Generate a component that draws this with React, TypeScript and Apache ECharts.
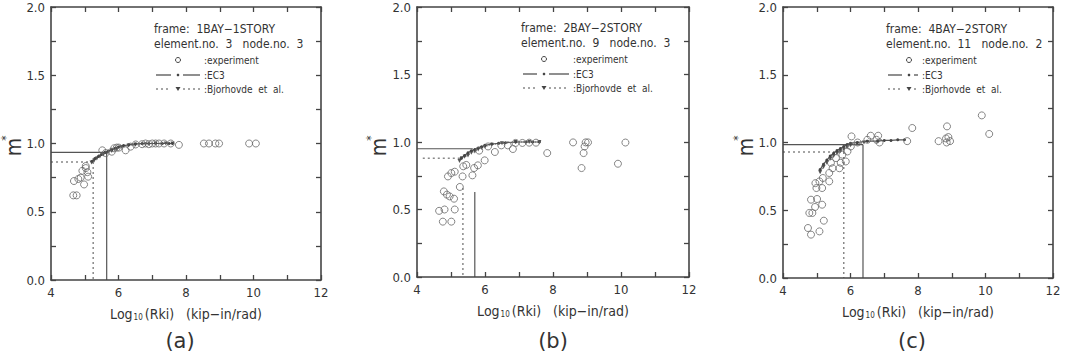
import React, { useEffect, useRef } from "react";
import * as echarts from "echarts";

// ---- tick labels & texts ----
const xTickLabels = ["4", "6", "8", "10", "12"];
const yTickLabels = ["0.0", "0.5", "1.0", "1.5", "2.0"];
const panelLetters = ["(a)", "(b)", "(c)"];
const frameNames = ["1BAY−1STORY", "2BAY−2STORY", "4BAY−2STORY"];
const elementNos = ["3", "9", "11"];
const nodeNos = ["3", "3", "2"];

type P = [number, number];

// ---- panel (a) ----
const expA: P[] = [
  [4.66, 0.62], [4.76, 0.62], [4.68, 0.725], [4.81, 0.74], [4.88, 0.75], [4.93, 0.8],
  [5.03, 0.82], [4.98, 0.7], [5.1, 0.757], [5.08, 0.79], [5.03, 0.835], [5.52, 0.95],
  [5.62, 0.93], [5.8, 0.94], [5.87, 0.965], [5.95, 0.97], [6.01, 0.97], [6.21, 0.95],
  [6.36, 0.977], [6.51, 0.993], [6.7, 0.995], [6.8, 1.0], [6.9, 0.995], [7.0, 1.0],
  [7.1, 1.0], [7.2, 1.0], [7.35, 1.0], [7.55, 1.0], [7.79, 0.99], [8.53, 1.0],
  [8.68, 1.0], [8.87, 1.0], [8.98, 1.0], [9.87, 1.0], [10.07, 1.0],
];
const ec3A: P[] = [
  [5.22, 0.87], [5.3, 0.89], [5.4, 0.905], [5.5, 0.92], [5.6, 0.935], [5.7, 0.945],
  [5.8, 0.955], [5.9, 0.965], [6.0, 0.975], [6.15, 0.985], [6.3, 0.99], [6.5, 0.997],
  [6.7, 1.0], [6.9, 1.0], [7.1, 1.0], [7.3, 1.0], [7.5, 1.0], [7.6, 1.0],
];
const bjA: P[] = [
  [5.2, 0.86], [5.28, 0.875], [5.36, 0.89], [5.45, 0.905], [5.55, 0.92], [5.65, 0.93],
  [5.8, 0.945], [5.95, 0.96], [6.1, 0.975], [6.3, 0.985], [6.5, 0.99], [6.8, 0.995],
  [7.1, 1.0], [7.4, 1.0], [7.6, 1.0],
];
const ec3HA: P[] = [[4, 0.935], [5.65, 0.935]];
const ec3VA: P[] = [[5.65, 0.935], [5.65, 0]];
const bjHA: P[] = [[4, 0.864], [5.25, 0.864]];
const bjVA: P[] = [[5.25, 0.864], [5.25, 0]];

// ---- panel (b) ----
const expB: P[] = [
  [4.65, 0.49], [4.76, 0.41], [4.81, 0.5], [5.01, 0.41], [5.11, 0.5], [4.79, 0.634],
  [4.88, 0.61], [4.96, 0.597], [5.09, 0.58], [5.26, 0.667], [4.91, 0.745], [5.01, 0.77],
  [5.11, 0.78], [5.34, 0.745], [5.36, 0.82], [5.45, 0.83], [5.63, 0.753], [5.68, 0.807],
  [5.79, 0.827], [5.99, 0.864], [5.83, 0.936], [6.09, 0.967], [6.29, 0.926], [6.48, 0.975],
  [6.67, 0.975], [6.82, 0.948], [6.9, 0.993], [7.1, 0.993], [7.3, 0.995], [7.5, 0.995],
  [7.83, 0.918], [8.59, 0.997], [8.84, 0.807], [8.9, 0.918], [8.93, 0.967], [8.96, 0.997],
  [9.03, 0.997], [9.91, 0.839], [10.13, 0.996],
];
const ec3B: P[] = [
  [5.3, 0.88], [5.4, 0.9], [5.5, 0.92], [5.6, 0.935], [5.7, 0.945], [5.8, 0.955],
  [5.9, 0.965], [6.0, 0.975], [6.2, 0.985], [6.4, 0.99], [6.6, 0.995], [6.9, 1.0],
  [7.2, 1.0], [7.4, 1.0], [7.6, 1.0],
];
const bjB: P[] = [
  [5.25, 0.86], [5.32, 0.88], [5.4, 0.89], [5.5, 0.9], [5.6, 0.92], [5.7, 0.93],
  [5.8, 0.945], [5.9, 0.955], [6.0, 0.965], [6.2, 0.98], [6.5, 0.99], [6.9, 1.0],
  [7.3, 1.0], [7.6, 1.0],
];
const ec3HB: P[] = [[4, 0.95], [5.64, 0.95]];
const ec3VB: P[] = [[5.7, 0.63], [5.7, 0]];
const bjHB: P[] = [[4.17, 0.88], [5.3, 0.88]];
const bjVB: P[] = [[5.35, 0.66], [5.35, 0]];

// ---- panel (c) ----
const expC: P[] = [
  [4.74, 0.369], [4.83, 0.32], [5.08, 0.344], [5.21, 0.423], [4.78, 0.48], [4.87, 0.48],
  [4.83, 0.578], [5.01, 0.583], [4.95, 0.524], [5.16, 0.541], [4.96, 0.7], [5.08, 0.713],
  [4.99, 0.664], [5.16, 0.664], [5.18, 0.738], [5.37, 0.713], [5.37, 0.775], [5.47, 0.81],
  [5.42, 0.85], [5.57, 0.885], [5.67, 0.81], [5.71, 0.85], [5.86, 0.86], [5.76, 0.91],
  [5.91, 0.934], [6.01, 0.971], [6.03, 1.045], [6.21, 1.0], [6.5, 1.02], [6.6, 1.05],
  [6.82, 1.05], [6.77, 1.02], [6.86, 1.0], [7.68, 1.01], [7.83, 1.107], [8.61, 1.01],
  [8.86, 1.119], [8.83, 1.03], [8.9, 1.04], [8.95, 1.01], [8.85, 1.0], [9.89, 1.2],
  [10.11, 1.063],
];
const ec3C: P[] = [
  [5.1, 0.8], [5.2, 0.84], [5.3, 0.87], [5.4, 0.9], [5.5, 0.92], [5.6, 0.94],
  [5.7, 0.955], [5.8, 0.97], [5.9, 0.985], [6.0, 0.995], [6.2, 1.0], [6.5, 1.01],
  [6.8, 1.01], [7.0, 1.015], [7.2, 1.015], [7.4, 1.02], [7.6, 1.02],
];
const bjC: P[] = [
  [5.1, 0.78], [5.2, 0.82], [5.3, 0.85], [5.4, 0.88], [5.5, 0.9], [5.6, 0.92],
  [5.7, 0.935], [5.8, 0.95], [5.9, 0.965], [6.0, 0.98], [6.2, 0.99], [6.4, 1.0],
];
const ec3HC: P[] = [[4, 0.984], [6.37, 0.984]];
const ec3VC: P[] = [[6.37, 0.984], [6.37, 0]];
const bjHC: P[] = [[4, 0.93], [5.8, 0.93]];
const bjVC: P[] = [[5.8, 0.93], [5.8, 0]];

const panelsData = [
  { exp: expA, ec3: ec3A, bj: bjA, ec3H: ec3HA, ec3V: ec3VA, bjH: bjHA, bjV: bjVA },
  { exp: expB, ec3: ec3B, bj: bjB, ec3H: ec3HB, ec3V: ec3VB, bjH: bjHB, bjV: bjVB },
  { exp: expC, ec3: ec3C, bj: bjC, ec3H: ec3HC, ec3V: ec3VC, bjH: bjHC, bjV: bjVC },
];

// ---- layout (pixels) ----
const layout = [
  { left: 51, top: 7, width: 270, height: 273, caption: 180, lx: 154, ly: 29, sym: 24, txt: 50, mx: 14 },
  { left: 417, top: 7, width: 272, height: 270, caption: 553, lx: 521, ly: 28, sym: 23, txt: 52, mx: 379 },
  { left: 783, top: 7, width: 270, height: 271, caption: 912, lx: 886, ly: 29, sym: 23, txt: 36, mx: 746 },
];

const FONT = "DejaVu Sans Condensed";
const AX = "#444444";
const TXT = "#333333";

function xFmt(v: number) {
  const s = String(v);
  return xTickLabels.includes(s) ? s : "";
}
function yFmt(v: number) {
  if (Math.abs(v * 2 - Math.round(v * 2)) > 1e-6) return "";
  const s = v.toFixed(1);
  return yTickLabels.includes(s) ? s : "";
}

const mkLine = () => ({ show: true, onZero: false, lineStyle: { color: AX, width: 1.6, opacity: 1 } });
const mkTick = () => ({ show: true, inside: true, length: 5, lineStyle: { color: AX, width: 1.3, opacity: 1 } });

function buildOption() {
  const grid: any[] = [];
  const xAxis: any[] = [];
  const yAxis: any[] = [];
  const series: any[] = [];
  const graphic: any[] = [];

  layout.forEach((L, i) => {
    grid.push({ left: L.left, top: L.top, width: L.width, height: L.height, z: 5 });
    xAxis.push({
      gridIndex: i, type: "value", min: 4, max: 12, interval: 1, position: "bottom", z: 5,
      axisLine: mkLine(), axisTick: mkTick(), splitLine: { show: false },
      axisLabel: { formatter: xFmt, color: TXT, fontSize: 13, fontFamily: FONT, margin: 6 },
      name: "{n|Log}{s|10}{n|(Rki)   (kip−in/rad)}",
      nameLocation: "middle", nameGap: 27,
      nameTextStyle: {
        rich: {
          n: { fontSize: 14, fontFamily: FONT, color: TXT, verticalAlign: "bottom" },
          s: { fontSize: 8, fontFamily: FONT, color: TXT, verticalAlign: "bottom", padding: [0, 2, 0, 1] },
        },
      },
    });
    xAxis.push({
      gridIndex: i, type: "value", min: 4, max: 12, interval: 1, position: "top", z: 5,
      axisLine: mkLine(), axisTick: mkTick(), splitLine: { show: false }, axisLabel: { show: false },
    });
    yAxis.push({
      gridIndex: i, type: "value", min: 0, max: 2, interval: 0.25, position: "left", z: 5,
      axisLine: mkLine(), axisTick: mkTick(), splitLine: { show: false },
      axisLabel: { formatter: yFmt, color: TXT, fontSize: 13, fontFamily: FONT, margin: 6 },
    });
    yAxis.push({
      gridIndex: i, type: "value", min: 0, max: 2, interval: 0.25, position: "right", z: 5,
      axisLine: mkLine(), axisTick: mkTick(), splitLine: { show: false }, axisLabel: { show: false },
    });

    const D = panelsData[i];
    const xi = 2 * i;
    const yi = 2 * i;
    const boundLine = (data: P[], dotted: boolean) => ({
      type: "line", xAxisIndex: xi, yAxisIndex: yi, data, showSymbol: false, symbol: "none",
      lineStyle: dotted ? { color: "#888", width: 1.5, type: [2, 3] } : { color: "#555", width: 1.2 },
      z: 2, silent: true,
    });
    series.push(boundLine(D.ec3H, false), boundLine(D.ec3V, false), boundLine(D.bjH, true), boundLine(D.bjV, true));
    series.push({
      type: "line", xAxisIndex: xi, yAxisIndex: yi, data: D.bj, symbol: "triangle", symbolRotate: 180,
      symbolSize: 4, showSymbol: true, lineStyle: { color: "#777", width: 1, type: "dotted" },
      itemStyle: { color: "#555" }, z: 3,
    });
    series.push({
      type: "line", xAxisIndex: xi, yAxisIndex: yi, data: D.ec3, symbol: "circle",
      symbolSize: 3, showSymbol: true, lineStyle: { color: "#555", width: 1.2 },
      itemStyle: { color: "#444" }, z: 3,
    });
    series.push({
      type: "scatter", xAxisIndex: xi, yAxisIndex: yi, data: D.exp, symbol: "circle", symbolSize: 7,
      itemStyle: { color: "rgba(0,0,0,0)", borderColor: "#666", borderWidth: 1 }, z: 4,
    });

    // y-axis title m* (rotated 90° counter-clockwise)
    graphic.push({
      type: "group", x: L.mx, y: 147, rotation: Math.PI / 2,
      children: [
        { type: "text", x: 0, y: 0, style: { text: "m", fontSize: 21, fontFamily: FONT, fill: TXT, textAlign: "center", textVerticalAlign: "middle" } },
        { type: "text", x: 9, y: -8, style: { text: "*", fontSize: 12, fontFamily: FONT, fill: TXT, textAlign: "center", textVerticalAlign: "middle" } },
      ],
    });
    // caption
    graphic.push({
      type: "text", x: L.caption, y: 341,
      style: { text: panelLetters[i], fontSize: 21, fontFamily: "DejaVu Sans", fill: TXT, textAlign: "center", textVerticalAlign: "middle" },
    });
    // legend block
    const lx = L.lx, ly = L.ly;
    const t = (text: string, x: number, y: number, size: number) => ({
      type: "text", x, y,
      style: { text, fontSize: size, fontFamily: FONT, fill: TXT, textAlign: "left", textVerticalAlign: "middle" },
    });
    graphic.push(t("frame:  " + frameNames[i], lx, ly, 12));
    graphic.push(t("element.no.  " + elementNos[i] + "   node.no.  " + nodeNos[i], lx, ly + 15, 12));
    graphic.push({ type: "circle", shape: { cx: lx + L.sym, cy: ly + 31, r: 2.5 }, style: { fill: "none", stroke: "#444", lineWidth: 1 } });
    graphic.push(t(":experiment", lx + L.txt, ly + 31, 10));
    graphic.push({ type: "line", shape: { x1: lx + 2, y1: ly + 46, x2: lx + L.sym - 7, y2: ly + 46 }, style: { stroke: "#444", lineWidth: 1.2 } });
    graphic.push({ type: "circle", shape: { cx: lx + L.sym, cy: ly + 46, r: 1.3 }, style: { fill: "#444" } });
    graphic.push({ type: "line", shape: { x1: lx + L.sym + 5, y1: ly + 46, x2: lx + L.txt - 4, y2: ly + 46 }, style: { stroke: "#444", lineWidth: 1.2 } });
    graphic.push(t(":EC3", lx + L.txt, ly + 46, 10));
    graphic.push({ type: "line", shape: { x1: lx + 2, y1: ly + 60, x2: lx + L.sym - 7, y2: ly + 60 }, style: { stroke: "#888", lineWidth: 1.5, lineDash: [2, 3] } });
    graphic.push({ type: "polygon", shape: { points: [[lx + L.sym - 2.5, ly + 58], [lx + L.sym + 2.5, ly + 58], [lx + L.sym, ly + 62]] }, style: { fill: "#444" } });
    graphic.push({ type: "line", shape: { x1: lx + L.sym + 5, y1: ly + 60, x2: lx + L.txt - 4, y2: ly + 60 }, style: { stroke: "#888", lineWidth: 1.5, lineDash: [2, 3] } });
    graphic.push(t(":Bjorhovde  et  al.", lx + L.txt, ly + 60, 10));
  });

  return {
    animation: false,
    grid, xAxis, yAxis, series, graphic,
  };
}

export default function App() {
  const ref = useRef<HTMLDivElement>(null);
  useEffect(() => {
    if (!ref.current) return;
    const chart = echarts.init(ref.current, undefined, { renderer: "svg" });
    chart.setOption(buildOption() as any);
    return () => chart.dispose();
  }, []);
  return (
    <div
      ref={ref}
      style={{ position: "absolute", left: 0, top: 0, width: 1069, height: 359, background: "#ffffff" }}
    />
  );
}
